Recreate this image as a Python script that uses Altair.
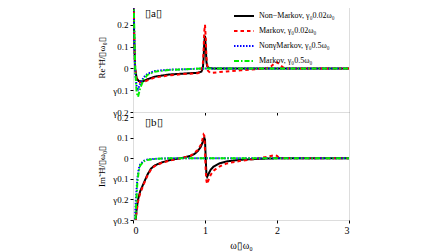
import altair as alt
import pandas as pd

S = ["Non\u2212Markov, \u03b3\u20800.02\u03c9\u2080", "Markov, \u03b3\u20800.02\u03c9\u2080",
     "Non\u03b3Markov, \u03b3\u20800.5\u03c9\u2080", "Markov, \u03b3\u20800.5\u03c9\u2080"]
colors = ["#000000", "#ff0000", "#0000ff", "#00ee00"]
dashes = [[1, 0], [3.5, 3], [1.5, 1.5], [5, 2, 1.5, 2]]

# Panel (a): real part
re_nm02_x = [0, 0.01, 0.02, 0.03, 0.05, 0.08, 0.13, 0.2, 0.3, 0.5, 0.7, 0.9, 0.95, 0.97, 0.98, 0.99, 1.0, 1.01, 1.02, 1.03, 1.05, 1.1, 1.5, 2.0, 2.5, 3.0]
re_nm02_y = [0.35, 0.25, 0.1, 0.0, -0.045, -0.058, -0.06, -0.05, -0.038, -0.028, -0.024, -0.02, -0.015, 0.0, 0.04, 0.12, 0.15, 0.1, 0.03, 0.01, 0.003, 0.0, 0.0, 0.0, 0.0, 0.0]
re_m02_x = [0, 0.01, 0.02, 0.03, 0.05, 0.08, 0.13, 0.2, 0.3, 0.5, 0.7, 0.9, 0.95, 0.97, 0.98, 0.99, 1.0, 1.01, 1.02, 1.04, 1.07, 1.1, 1.3, 1.5, 1.7, 1.85, 1.92, 1.97, 2.0, 2.03, 2.08, 2.15, 2.5, 3.0]
re_m02_y = [0.35, 0.25, 0.1, 0.0, -0.05, -0.062, -0.065, -0.055, -0.042, -0.032, -0.026, -0.022, -0.012, 0.02, 0.08, 0.17, 0.2, 0.14, 0.05, -0.01, -0.02, -0.02, -0.014, -0.009, -0.004, 0.0, 0.01, 0.025, 0.028, 0.02, 0.005, 0.0, 0.0, 0.0]
re_nm5_x = [0, 0.01, 0.02, 0.03, 0.05, 0.07, 0.1, 0.15, 0.2, 0.3, 0.5, 0.8, 1.0, 1.5, 2.0, 3.0]
re_nm5_y = [0.35, 0.25, 0.1, -0.02, -0.08, -0.095, -0.07, -0.04, -0.025, -0.012, -0.006, -0.003, 0.0, 0.0, 0.0, 0.0]
re_m5_x = [0, 0.01, 0.02, 0.03, 0.05, 0.07, 0.1, 0.15, 0.2, 0.3, 0.5, 0.8, 1.0, 1.5, 2.0, 3.0]
re_m5_y = [0.35, 0.3, 0.15, 0.0, -0.11, -0.13, -0.09, -0.05, -0.03, -0.015, -0.007, -0.003, 0.0, 0.0, 0.0, 0.0]

# Panel (b): imaginary part
im_nm02_x = [0.0, 0.03, 0.05, 0.07, 0.1, 0.15, 0.2, 0.25, 0.3, 0.4, 0.5, 0.6, 0.7, 0.8, 0.85, 0.9, 0.94, 0.97, 0.99, 1.0, 1.01, 1.02, 1.03, 1.05, 1.08, 1.12, 1.2, 1.3, 1.5, 1.8, 2.0, 3.0]
im_nm02_y = [-0.5, -0.32, -0.25, -0.2, -0.16, -0.12, -0.08, -0.05, -0.035, -0.02, -0.01, -0.003, 0.003, 0.012, 0.02, 0.035, 0.055, 0.08, 0.1, 0.09, 0.0, -0.08, -0.09, -0.075, -0.055, -0.04, -0.025, -0.015, -0.007, -0.002, 0.0, 0.0]
im_m02_x = [0.0, 0.03, 0.05, 0.07, 0.1, 0.15, 0.2, 0.25, 0.3, 0.4, 0.5, 0.6, 0.7, 0.8, 0.9, 0.95, 0.97, 0.98, 0.99, 1.0, 1.01, 1.02, 1.03, 1.05, 1.08, 1.12, 1.2, 1.3, 1.5, 1.7, 1.8, 1.9, 1.97, 2.0, 2.03, 2.1, 3.0]
im_m02_y = [-0.5, -0.33, -0.26, -0.21, -0.17, -0.125, -0.085, -0.055, -0.038, -0.022, -0.012, -0.004, 0.003, 0.012, 0.04, 0.07, 0.1, 0.115, 0.11, 0.04, -0.06, -0.11, -0.125, -0.105, -0.08, -0.06, -0.04, -0.025, -0.012, -0.003, 0.003, 0.01, 0.015, 0.012, 0.0, 0.0, 0.0]
im_nm5_x = [0.0, 0.02, 0.04, 0.06, 0.08, 0.1, 0.15, 0.2, 0.3, 0.5, 3.0]
im_nm5_y = [-0.5, -0.35, -0.2, -0.1, -0.05, -0.03, -0.012, -0.006, -0.003, 0.0, 0.0]
im_m5_x = [0.0, 0.02, 0.04, 0.06, 0.08, 0.1, 0.15, 0.2, 0.3, 0.5, 3.0]
im_m5_y = [-0.5, -0.4, -0.25, -0.12, -0.06, -0.035, -0.015, -0.008, -0.003, 0.0, 0.0]


def frame(series_list):
    rows = []
    for name, xs, ys in series_list:
        for i, (a, b) in enumerate(zip(xs, ys)):
            rows.append({"x": a, "y": b, "s": name, "o": i})
    return pd.DataFrame(rows)


dfa = frame([(S[0], re_nm02_x, re_nm02_y), (S[1], re_m02_x, re_m02_y),
             (S[2], re_nm5_x, re_nm5_y), (S[3], re_m5_x, re_m5_y)])
dfb = frame([(S[0], im_nm02_x, im_nm02_y), (S[1], im_m02_x, im_m02_y),
             (S[2], im_nm5_x, im_nm5_y), (S[3], im_m5_x, im_m5_y)])

FONT = "Liberation Serif"
ylab = "datum.value == 0 ? '0' : (datum.value < 0 ? '\u03b3' + format(-datum.value, '.1f') : format(datum.value, '.1f'))"


def panel(df, ydom, title, label, show_legend, show_x, h):
    legend = alt.Legend(orient="none", legendX=100, legendY=2, title=None,
                        labelFont=FONT, labelFontSize=8, symbolSize=400,
                        symbolStrokeWidth=2, symbolType="stroke", rowPadding=0) if show_legend else None
    xaxis = alt.Axis(values=[0, 1, 2, 3], labels=show_x, title="\u03c9\u25af\u03c9\u2080" if show_x else None,
                     domain=False, tickSize=3, tickColor="#000", labelFont=FONT, labelFontSize=10,
                     labelColor="#000", titleFont=FONT, titleFontSize=10, titleFontWeight="normal",
                     titleColor="#000", grid=False, labelPadding=2, titlePadding=5)
    lines = alt.Chart(df).mark_line(strokeWidth=2, clip=True).encode(
        x=alt.X("x:Q", scale=alt.Scale(domain=[0, 3], nice=False), axis=xaxis),
        y=alt.Y("y:Q", scale=alt.Scale(domain=ydom, nice=False),
                axis=alt.Axis(values=[-0.3, -0.2, -0.1, 0, 0.1, 0.2, 0.3], labelExpr=ylab, title=title,
                              domain=False, tickSize=3, tickColor="#000", labelFont=FONT, labelFontSize=9,
                              labelColor="#000", titleFont=FONT, titleFontSize=9, titleFontWeight="normal",
                              titleColor="#000", grid=False, labelPadding=2, titlePadding=6)),
        color=alt.Color("s:N", scale=alt.Scale(domain=S, range=colors), legend=legend, sort=S),
        strokeDash=alt.StrokeDash("s:N", scale=alt.Scale(domain=S, range=dashes), legend=legend, sort=S),
        order="o:Q",
        detail="s:N",
    )
    txt = alt.Chart(pd.DataFrame({"t": [label]})).mark_text(
        font=FONT, fontSize=11, align="left", baseline="top", color="#000").encode(
        text="t:N", x=alt.value(12), y=alt.value(5))
    return alt.layer(lines, txt).properties(width=216, height=h)


top = panel(dfa, [-0.2, 0.3], "Re\u02dc\u0126/\u25af\u03c9\u2080\u25af", "\u25afa\u25af", True, False, 109)
bot = panel(dfb, [-0.3, 0.225], "Im\u02dc\u0126/\u25af\u03c9\u2080\u25af", "\u25afb\u25af", False, True, 108)

chart = alt.vconcat(top, bot, spacing=0, bounds="flush").resolve_scale(color="shared", strokeDash="shared").properties(
    padding={"left": 89, "top": -10, "right": 5, "bottom": 0}
).configure_view(stroke="#000", strokeWidth=1).configure(background="white")

chart.save("out.html", embed_options={"renderer": "svg", "actions": False})
